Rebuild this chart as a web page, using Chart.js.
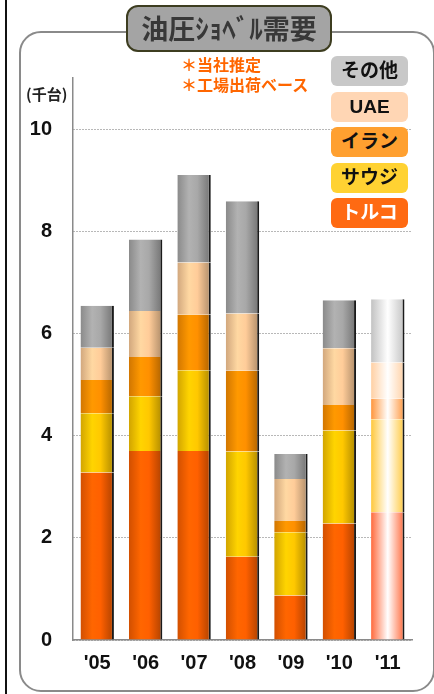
<!DOCTYPE html>
<html>
<head>
<meta charset="utf-8">
<script src="https://cdn.jsdelivr.net/npm/chart.js@4.4.0/dist/chart.umd.min.js"></script>
<style>
  body { margin: 0; width: 434px; height: 694px; background: #fff; position: relative; overflow: hidden;
         font-family: 'Liberation Sans', 'Noto Sans CJK JP', sans-serif; }
  #edge { position: absolute; left: 5px; top: 0; width: 2px; height: 694px; background: #111; }
  #frame { position: absolute; left: 19px; top: 31px; width: 416px; height: 661px; box-sizing: border-box;
           border: 2px solid #8a8a8a; border-radius: 22px; }
  #chart { position: absolute; left: 0; top: 0; }
  #title { position: absolute; left: 126px; top: 5px; width: 206px; height: 47px; box-sizing: border-box;
           background: #a4a4a4; border: 2px solid #3d3d20; border-radius: 12px;
           font: bold 27px 'Noto Sans CJK JP', sans-serif; color: #383838; text-align: center; line-height: 42px; }
  .note { position: absolute; left: 181px; font: bold 16px 'Noto Sans CJK JP', sans-serif; color: #ff6600; line-height: 19px; }
  #unit { position: absolute; left: 26px; top: 83px; font: bold 15px 'Noto Sans CJK JP', sans-serif; color: #222; }
  .key { position: absolute; left: 331px; width: 77px; height: 30px; border-radius: 6px;
         font: bold 19px 'Liberation Sans', 'Noto Sans CJK JP', sans-serif; text-align: center; line-height: 30px; color: #111; }
</style>
</head>
<body>
<div id="edge"></div>
<div id="frame"></div>
<canvas id="chart" width="434" height="694"></canvas>
<div id="title">油圧ｼｮﾍﾞﾙ需要</div>
<div class="note" style="top:55px">＊当社推定</div>
<div class="note" style="top:75px">＊工場出荷ベース</div>
<div id="unit">(千台)</div>
<div id="legend"></div>
<script>
const years = ["'05", "'06", "'07", "'08", "'09", "'10", "'11"];
const seriesNames = ['トルコ', 'サウジ', 'イラン', 'UAE', 'その他'];
// 千台, bottom segment first
const turkey = [3.28, 3.70, 3.70, 1.63, 0.87, 2.28, 2.50];
const saudi  = [1.16, 1.07, 1.58, 2.06, 1.24, 1.82, 1.82];
const iran   = [0.65, 0.77, 1.09, 1.58, 0.22, 0.50, 0.40];
const uae    = [0.63, 0.90, 1.02, 1.12, 0.82, 1.11, 0.71];
const others = [0.82, 1.40, 1.71, 2.20, 0.49, 0.94, 1.24];
const yTicks = [0, 2, 4, 6, 8, 10];
const forecastYear = "'11";

const barColors = ['#ff6000', '#ffc800', '#ff9000', '#ffcc99', '#a8a8a8'];
const ghostColors = ['#ff6a3c', '#ffc83c', '#ff963c', '#ffd0a4', '#c2c2c2'];
const legendColors = ['#ff6a12', '#ffd232', '#ffa030', '#ffd6b4', '#c8c8c8'];
const barPct = 0.69;

function shade(hex, f) {
    const n = parseInt(hex.slice(1), 16);
    const c = [(n >> 16) & 255, (n >> 8) & 255, n & 255].map(v => Math.round(Math.min(255, v * f)));
    return `rgb(${c[0]},${c[1]},${c[2]})`;
}

function barFill(context, k) {
    const chart = context.chart;
    const xs = chart.scales.x;
    if (!chart.chartArea || !xs || context.type !== 'data') return barColors[k];
    const cx = xs.getPixelForValue(context.dataIndex);
    const half = xs.width / years.length * barPct / 2;
    const g = chart.ctx.createLinearGradient(cx - half, 0, cx + half, 0);
    if (years[context.dataIndex] === forecastYear) {
        g.addColorStop(0, ghostColors[k]);
        g.addColorStop(0.5, '#ffffff');
        g.addColorStop(1, ghostColors[k]);
    } else {
        g.addColorStop(0, shade(barColors[k], 0.82));
        g.addColorStop(0.35, shade(barColors[k], 1.06));
        g.addColorStop(0.6, barColors[k]);
        g.addColorStop(1, shade(barColors[k], 0.68));
    }
    return g;
}

const seriesData = [turkey, saudi, iran, uae, others];
const datasets = seriesData.map((data, k) => ({
    label: seriesNames[k],
    data: data,
    backgroundColor: ctx => barFill(ctx, k),
    borderColor: '#1a1a1a',
    borderWidth: { top: 0, left: 0, bottom: 0, right: 2 },
    borderSkipped: false,
    barPercentage: barPct,
    categoryPercentage: 1
}));

// legend boxes, top item is the top segment
const legend = document.getElementById('legend');
seriesNames.slice().reverse().forEach((name, i) => {
    const k = seriesNames.length - 1 - i;
    const d = document.createElement('div');
    d.className = 'key';
    d.style.top = (56 + i * 35.5) + 'px';
    d.style.background = legendColors[k];
    if (k === 0) d.style.color = '#fff';
    d.textContent = name;
    legend.appendChild(d);
});

const tickFont = { family: "'Liberation Sans', Arial, sans-serif", size: 20, weight: 'bold' };

new Chart(document.getElementById('chart'), {
    type: 'bar',
    data: { labels: years, datasets: datasets },
    options: {
        responsive: false,
        animation: false,
        layout: { padding: { left: 20, right: 22, top: 78, bottom: 14 } },
        plugins: { legend: { display: false }, tooltip: { enabled: false } },
        scales: {
            x: {
                stacked: true,
                grid: { display: false },
                border: { display: true, color: '#8a8a8a', width: 1.5 },
                ticks: { color: '#111', font: tickFont, padding: 3 },
                afterFit: scale => { scale.height = 40; }
            },
            y: {
                stacked: true,
                min: 0,
                max: 11,
                afterBuildTicks: scale => { scale.ticks = yTicks.map(v => ({ value: v })); },
                grid: { color: '#707070', lineWidth: 1, drawTicks: false },
                border: { display: true, color: '#8a8a8a', width: 1.5, dash: [1, 2] },
                ticks: { color: '#111', font: tickFont, padding: 21 },
                afterFit: scale => { scale.width = 53; }
            }
        }
    }
});
</script>
</body>
</html>
